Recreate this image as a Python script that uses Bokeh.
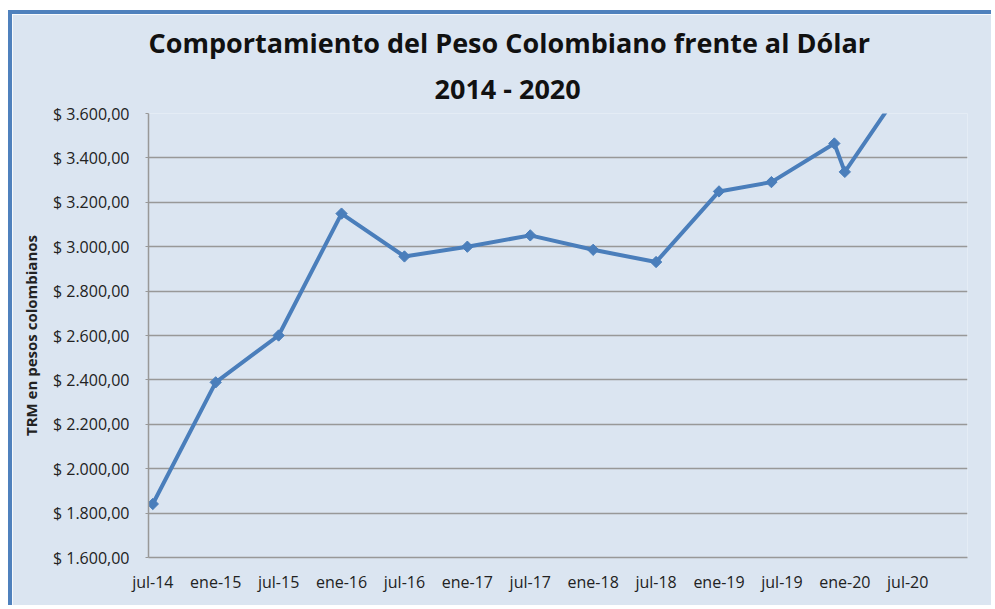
import math
from bokeh.plotting import figure
from bokeh.models import FixedTicker, Range1d, ColumnDataSource, Title
from bokeh.embed import file_html
from bokeh.resources import INLINE

# ---- data ----
months = ["2014-07", "2015-01", "2015-07", "2016-01", "2016-07", "2017-01", "2017-07",
          "2018-01", "2018-07", "2019-01", "2019-06", "2019-12", "2020-01", "2020-06"]
trm = [1841, 2389, 2600, 3149, 2956, 3000, 3051, 2986, 2931, 3249, 3291, 3465, 3337, 3683]
x_tick_labels = ["jul-14", "ene-15", "jul-15", "ene-16", "jul-16", "ene-17", "jul-17",
                 "ene-18", "jul-18", "ene-19", "jul-19", "ene-20", "jul-20"]
y_ticks = [1600, 1800, 2000, 2200, 2400, 2600, 2800, 3000, 3200, 3400, 3600]
title_lines = ["Comportamiento del Peso Colombiano frente al Dólar", "2014 - 2020"]
y_title = "TRM en pesos colombianos"


def month_index(s):
    y, m = s.split("-")
    return (int(y) - 2014) * 12 + (int(m) - 7)


def peso(v):
    s = f"{v:,.2f}"  # 3,600.00
    s = s.replace(",", "X").replace(".", ",").replace("X", ".")
    return "$ " + s


xs = [month_index(m) for m in months]
x_tick_vals = [6 * i for i in range(len(x_tick_labels))]

BG = "#DBE5F1"
BLUE = "#4A7EBB"
GRID = "#989898"
FONT = "Open Sans"

p = figure(width=983, height=595, output_backend="svg", toolbar_location=None,
           x_range=Range1d(-0.41, 77.7), y_range=Range1d(1600, 3600),
           min_border_left=136, min_border_top=99, min_border_right=28, min_border_bottom=52)
p.styles = {"border-left": "4px solid #4F81BD", "border-top": "4px solid #4F81BD",
            "margin-top": "10px", "margin-left": "8px"}
p.background_fill_color = BG
p.border_fill_color = BG
p.outline_line_color = None

src = ColumnDataSource(dict(x=xs, y=trm))
p.line("x", "y", source=src, line_color=BLUE, line_width=4, line_join="round")
p.scatter("x", "y", source=src, marker="square", size=8, angle=math.pi / 4,
          fill_color=BLUE, line_color=BLUE)

# axes
p.xaxis.ticker = FixedTicker(ticks=x_tick_vals)
p.xaxis.major_label_overrides = {v: l for v, l in zip(x_tick_vals, x_tick_labels)}
p.xaxis.major_tick_line_color = None
p.xaxis.minor_tick_line_color = None
p.xaxis.axis_line_color = GRID
p.xaxis.axis_line_width = 1.5
p.xaxis.major_label_standoff = 7
p.xaxis.major_label_text_font = FONT
p.xaxis.major_label_text_font_size = "16px"
p.xaxis.major_label_text_color = "#222222"

p.yaxis.ticker = FixedTicker(ticks=y_ticks)
p.yaxis.major_label_overrides = {v: peso(v) for v in y_ticks}
p.yaxis.major_tick_line_color = GRID
p.yaxis.major_tick_out = 3
p.yaxis.major_tick_in = 0
p.yaxis.minor_tick_line_color = None
p.yaxis.axis_line_color = GRID
p.yaxis.axis_line_width = 1.5
p.yaxis.major_label_standoff = 16
p.yaxis.major_label_text_font = FONT
p.yaxis.major_label_text_font_size = "16px"
p.yaxis.major_label_text_color = "#222222"
p.yaxis.axis_label = y_title
p.yaxis.axis_label_text_font = FONT
p.yaxis.axis_label_text_font_style = "bold"
p.yaxis.axis_label_text_font_size = "15px"
p.yaxis.axis_label_text_color = "#222222"
p.yaxis.axis_label_standoff = 9

p.xgrid.grid_line_color = None
p.ygrid.grid_line_color = GRID
p.ygrid.grid_line_width = 1.5

# two-line title, nearest line added first
p.add_layout(Title(text=title_lines[1], align="left", offset=286, standoff=14,
                   text_font=FONT, text_font_style="bold", text_font_size="27px",
                   text_line_height=1.0, text_color="#111111"), "above")
p.add_layout(Title(text=title_lines[0], align="left", offset=0, standoff=0,
                   text_font=FONT, text_font_style="bold", text_font_size="27px",
                   text_line_height=1.0, text_color="#111111"), "above")

open("out.html", "w").write(file_html(p, INLINE))
